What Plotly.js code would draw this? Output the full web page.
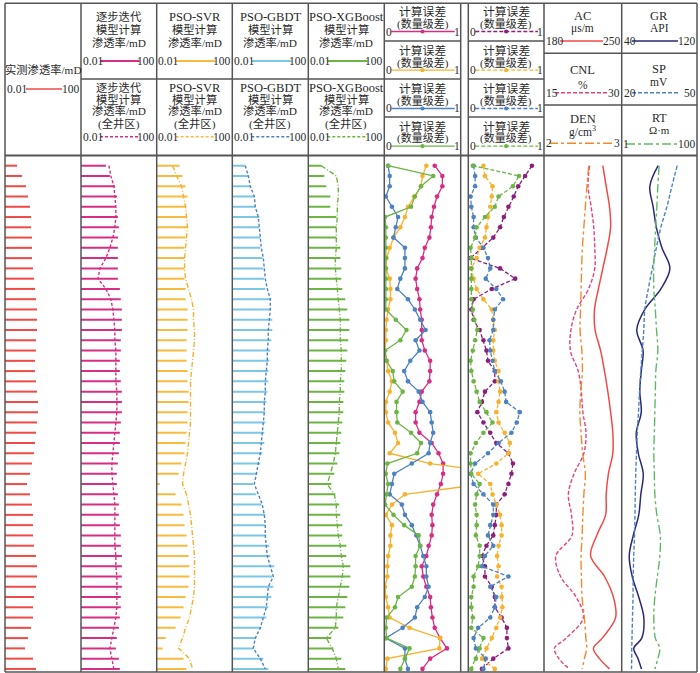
<!DOCTYPE html>
<html><head><meta charset="utf-8">
<script src="https://cdn.plot.ly/plotly-3.0.1.min.js"></script>
<style>html,body{margin:0;padding:0;background:#fff;}#chart{width:700px;height:673px;}</style>
</head><body><div id="chart"></div>
<script>
// ---------- DATA ----------
const depthIndex = [0,1,2,3,4,5,6,7,8,9,10,11,12,13,14,15,16,17,18,19,20,21,22,23,24,25,26,27,28,29,30,31,32,33,34,35,36,37,38,39,40,41,42,43,44,45,46,47,48,49];

const measured = [0.043,0.079,0.127,0.162,0.207,0.234,0.234,0.264,0.264,0.264,0.298,0.336,0.379,0.428,0.483,0.483,0.483,0.428,0.428,0.379,0.379,0.428,0.483,0.546,0.546,0.483,0.428,0.379,0.336,0.264,0.207,0.144,0.207,0.264,0.298,0.298,0.298,0.336,0.428,0.483,0.483,0.428,0.336,0.298,0.298,0.234,0.162,0.113,0.298,0.428];

const stepBar = [0.207,0.336,0.616,0.785,0.695,0.886,1.0,0.886,0.886,0.886,0.886,0.886,1.13,1.27,1.44,1.44,1.44,1.27,1.27,1.13,1.13,1.27,1.44,1.44,1.44,1.27,1.13,1.13,1.0,0.886,0.785,0.785,0.886,1.0,1.0,1.13,1.27,1.27,1.44,1.44,1.44,1.44,1.27,1.27,1.13,1.0,0.785,0.695,1.0,1.13];
const stepWell = [0.298,0.379,0.546,0.616,0.695,0.695,0.616,0.483,0.336,0.207,0.1,0.0785,0.207,0.379,0.483,0.546,0.616,0.616,0.695,0.695,0.695,0.695,0.785,0.785,0.785,0.695,0.616,0.546,0.483,0.428,0.428,0.483,0.546,0.616,0.616,0.616,0.616,0.616,0.695,0.695,0.785,0.785,0.785,0.785,0.695,0.546,0.428,0.336,0.428,0.546];

const svrBar = [0.162,0.234,0.336,0.428,0.336,0.379,0.428,0.336,0.298,0.298,0.298,0.298,0.336,0.336,0.428,0.428,0.428,0.379,0.379,0.379,0.428,0.428,0.483,0.483,0.428,0.428,0.379,0.336,0.298,0.207,0.144,0.0145,0.1,0.207,0.264,0.298,0.379,0.428,0.483,0.546,0.546,0.483,0.336,0.264,0.183,0.1,0.0298,0.0207,0.264,0.379];
const svrWell = [0.0695,0.113,0.207,0.264,0.336,0.379,0.428,0.379,0.336,0.298,0.298,0.336,0.483,0.695,0.886,0.886,1.0,1.0,0.886,0.785,0.695,0.616,0.616,0.616,0.616,0.616,0.546,0.483,0.428,0.336,0.264,0.234,0.379,0.483,0.616,0.695,0.785,0.886,1.0,1.0,1.0,1.0,0.886,0.695,0.546,0.336,0.234,0.144,0.546,0.785];

const gbdtBar = [0.0483,0.0695,0.0886,0.144,0.162,0.264,0.264,0.298,0.298,0.379,0.428,0.483,0.546,1.0,1.0,1.27,1.27,1.13,1.0,0.886,0.785,0.785,0.695,0.616,0.546,0.546,0.483,0.483,0.379,0.298,0.207,0.127,0.183,0.336,0.546,0.546,0.616,0.886,1.0,1.62,1.27,1.44,1.13,0.785,0.616,0.336,0.183,0.127,0.428,0.785];
const gbdtWell = [0.0483,0.0695,0.0886,0.144,0.162,0.234,0.264,0.298,0.336,0.428,0.483,0.546,0.695,1.0,1.0,0.886,0.785,0.785,0.695,0.695,0.616,0.546,0.546,0.483,0.483,0.428,0.379,0.336,0.298,0.234,0.183,0.144,0.234,0.379,0.483,0.546,0.546,0.616,0.695,1.0,1.44,0.785,0.695,0.616,0.428,0.298,0.162,0.127,0.298,0.546];

const xgbBar = [0.0483,0.0695,0.0886,0.144,0.144,0.298,0.298,0.298,0.483,0.483,0.546,0.546,0.616,0.886,1.13,1.44,1.44,1.27,1.13,1.0,0.886,0.785,0.785,0.695,0.695,0.616,0.546,0.483,0.428,0.336,0.234,0.162,0.264,0.428,0.483,0.616,0.616,1.0,1.0,1.62,1.62,1.44,1.13,0.886,0.695,0.379,0.162,0.207,0.546,0.886];
const xgbWell = [0.0483,0.298,0.379,0.379,0.336,0.336,0.298,0.298,0.298,0.264,0.264,0.298,0.336,0.379,0.428,0.483,0.483,0.483,0.546,0.546,0.546,0.483,0.483,0.428,0.428,0.379,0.336,0.298,0.264,0.207,0.144,0.1,0.234,0.298,0.298,0.336,0.379,0.483,0.546,0.695,0.616,0.483,0.379,0.298,0.298,0.264,0.0886,0.183,0.298,0.379];

// calculation error (order-of-magnitude difference), study interval
const errStep = [0.66,0.76,0.76,0.69,0.65,0.62,0.61,0.59,0.53,0.50,0.43,0.41,0.43,0.46,0.47,0.49,0.49,0.49,0.53,0.60,0.60,0.59,0.49,0.46,0.41,0.41,0.46,0.62,0.71,0.77,0.77,0.74,0.69,0.64,0.62,0.63,0.62,0.58,0.55,0.49,0.51,0.55,0.60,0.61,0.63,0.66,0.73,0.82,0.60,0.50];
const errSvr = [0.55,0.50,0.48,0.39,0.31,0.27,0.21,0.12,0.07,0.03,0.02,0.07,0.08,0.08,0.05,0.03,0.02,0.02,0.01,0.03,0.05,0.10,0.07,0.02,0.02,0.05,0.14,0.18,0.07,0.60,1.6,1.3,0.27,0.10,0.02,0.10,0.08,0.08,0.05,0.04,0.04,0.01,0.02,0.05,0.07,0.33,0.73,0.72,0.04,0.02];
const errGbdt = [0.05,0.07,0.07,0.02,0.10,0.18,0.15,0.12,0.27,0.27,0.27,0.21,0.17,0.31,0.40,0.47,0.54,0.41,0.46,0.34,0.26,0.31,0.45,0.50,0.60,0.62,0.64,0.60,0.58,0.36,0.13,0.10,0.07,0.23,0.27,0.36,0.42,0.47,0.51,0.55,0.55,0.58,0.53,0.43,0.40,0.24,0.02,0.27,0.27,0.31];
const errXgb = [0.05,0.64,0.48,0.40,0.35,0.01,0.02,0.02,0.02,0.02,0.02,0.02,0.02,0.02,0.02,0.15,0.29,0.21,0.01,0.03,0.11,0.13,0.24,0.16,0.16,0.17,0.35,0.48,0.43,0.04,0.02,0.05,0.03,0.01,0.12,0.26,0.45,0.47,0.41,0.41,0.40,0.36,0.18,0.14,0.03,0.02,0.03,0.33,0.27,0.21];
// calculation error, whole-well models
const errStepW = [0.84,0.75,0.66,0.60,0.53,0.47,0.42,0.33,0.18,0.03,0.42,0.62,0.31,0.07,0.04,0.07,0.15,0.20,0.24,0.26,0.35,0.35,0.22,0.18,0.12,0.20,0.29,0.37,0.53,0.59,0.57,0.53,0.48,0.37,0.37,0.35,0.33,0.24,0.18,0.22,0.22,0.31,0.35,0.35,0.44,0.51,0.51,0.53,0.33,0.18];
const errSvrW = [0.20,0.22,0.32,0.31,0.29,0.26,0.24,0.22,0.15,0.11,0.04,0.07,0.11,0.20,0.31,0.33,0.35,0.33,0.33,0.35,0.40,0.40,0.42,0.40,0.37,0.40,0.48,0.55,0.53,0.37,0.13,0.29,0.32,0.37,0.42,0.44,0.44,0.40,0.38,0.40,0.38,0.44,0.44,0.45,0.42,0.37,0.31,0.24,0.18,0.35];
const errGbdtW = [0.07,0.09,0.09,0.03,0.04,0.07,0.07,0.10,0.20,0.26,0.29,0.23,0.37,0.46,0.35,0.33,0.33,0.28,0.29,0.32,0.35,0.43,0.48,0.50,0.68,0.64,0.57,0.40,0.26,0.09,0.03,0.07,0.20,0.33,0.33,0.29,0.26,0.33,0.22,0.18,0.53,0.29,0.37,0.35,0.29,0.13,0.07,0.10,0.23,0.20];
const errXgbW = [0.06,0.67,0.59,0.40,0.35,0.22,0.11,0.09,0.03,0.04,0.04,0.04,0.04,0.04,0.06,0.08,0.12,0.09,0.06,0.03,0.04,0.07,0.11,0.15,0.24,0.32,0.20,0.10,0.03,0.03,0.04,0.15,0.11,0.09,0.11,0.11,0.10,0.15,0.15,0.13,0.07,0.07,0.04,0.04,0.06,0.04,0.20,0.15,0.10,0.04];

// well-log curves
const curveDepth = [0,2,4,6,8,10,12,14,16,18,20,22,24,26,28,30,32,34,36,38,40,42,44,46,47,48,49];
const AC  = [233,236,239,240,237,233,229,225.5,226,231,234.5,237.5,240,242,242,238,236,235.5,227.5,222,234.5,242.5,244.5,232.5,224.5,230,239];
const CNL = [23.8,23.5,24.1,24.6,24.8,24.8,23.6,21.3,20.2,20.1,21.6,22.2,22.5,23.1,22.7,20.8,19.7,20.3,20.4,17.3,18.2,21.2,22.6,19.3,17.0,17.9,19.9];
const DEN = [2.575,2.552,2.532,2.513,2.494,2.484,2.478,2.471,2.464,2.487,2.494,2.474,2.461,2.477,2.497,2.532,2.513,2.50,2.491,2.477,2.481,2.49,2.519,2.539,2.549,2.519,2.49];
const GR  = [78.7,69.9,73.4,76.8,82.7,91.2,81.6,64.5,56,62.7,60.8,59.2,60.8,55.5,57.6,62.9,60.3,58.1,52.3,48,51.2,58.1,63.5,61.3,52.8,57.4,61];
const SP  = [42.1,40.0,38.0,35.6,33.8,32.2,30.6,29.2,28.8,28.2,27.6,27.1,26.7,26.2,25.9,25.6,25.4,25.3,25.1,24.8,24.6,24.5,24.3,24.1,24.0,24.0,23.9];
const RT  = [9.88,9.12,8.58,7.97,7.50,7.05,7.13,7.82,8.42,9.12,8.07,7.82,7.59,7.36,7.13,7.36,7.59,8.58,10.6,10.3,8.85,7.59,7.13,7.82,10.3,9.12,7.59];

// header texts
const modelNames = ['逐步迭代','PSO-SVR','PSO-GBDT','PSO-XGBoost'];
const permScaleLabels = ['0.01','100'];
const errTitle = ['计算误差','(数量级差)'];

// ---------- LAYOUT HELPERS ----------
const W=700,H=673;
const PX=x=>x/W, PY=y=>1-y/H;
const cols=[[5,81],[81,156.7],[156.7,232.3],[232.3,308.3],[308.3,384.3],[384.3,460.7],[468.3,544],[544,621.7],[621.7,697]];
const FONT="'Liberation Serif','Noto Sans CJK SC',serif";
const TXT='#2a2a2a';

const C = {red:'#ef4a45', mag:'#d62e83', yel:'#f9bb3f', lblue:'#7cc6e6', grn:'#6db445',
  dblue:'#4c82c0', purp:'#8c1f7c', orng:'#f08a2e', pink:'#e8407e', navy:'#2b2877', sgreen:'#5fba63'};

function segs(vals, depth){const x=[],y=[];vals.forEach((v,i)=>{x.push(0.01,v,null);y.push(depth[i],depth[i],null);});return {x,y};}

const traces=[];
function barTrace(vals, ax, color){const s=segs(vals, depthIndex);
  traces.push({type:'scatter',mode:'lines',x:s.x,y:s.y,xaxis:ax,yaxis:'y',line:{color:color,width:2},hoverinfo:'skip',showlegend:false});}
function lineTrace(vals, depth, ax, color, dash, width, markers, shape){
  traces.push({type:'scatter',mode:markers?'lines+markers':'lines',x:vals,y:depth,xaxis:ax,yaxis:'y',
    line:{color:color,width:width||1.4,dash:dash||'solid',shape:shape||'linear'},
    marker:{color:color,size:4.6},hoverinfo:'skip',showlegend:false});}

barTrace(measured,'x',C.red);
barTrace(stepBar,'x2',C.mag);  lineTrace(stepWell,depthIndex,'x2',C.mag,'3px,2px',1.4);
barTrace(svrBar,'x3',C.yel);   lineTrace(svrWell,depthIndex,'x3','#f5b030','5px,2px,1px,2px',1.4);
barTrace(gbdtBar,'x4',C.lblue);lineTrace(gbdtWell,depthIndex,'x4',C.dblue,'3px,2px',1.4);
barTrace(xgbBar,'x5',C.grn);   lineTrace(xgbWell,depthIndex,'x5',C.grn,'5px,2px,1px,2px',1.4);

lineTrace(errStep,depthIndex,'x6',C.mag,'solid',1.3,true);
lineTrace(errSvr,depthIndex,'x6','#f6b22e','solid',1.3,true);
lineTrace(errGbdt,depthIndex,'x6',C.dblue,'solid',1.3,true);
lineTrace(errXgb,depthIndex,'x6',C.grn,'solid',1.3,true);

lineTrace(errStepW,depthIndex,'x7',C.purp,'4px,2px',1.3,true);
lineTrace(errSvrW,depthIndex,'x7','#f6b22e','4px,2px',1.3,true);
lineTrace(errGbdtW,depthIndex,'x7',C.dblue,'4px,2px',1.3,true);
lineTrace(errXgbW,depthIndex,'x7',C.grn,'4px,2px',1.3,true);

lineTrace(AC,curveDepth,'x8',C.red,'solid',1.5,false,'spline');
lineTrace(CNL,curveDepth,'x10',C.pink,'4px,2px',1.4,false,'spline');
lineTrace(DEN,curveDepth,'x11',C.orng,'dashdot',1.4,false,'spline');
lineTrace(GR,curveDepth,'x9',C.navy,'solid',1.5,false,'spline');
lineTrace(SP,curveDepth,'x12',C.dblue,'4px,2px',1.4,false,'spline');
lineTrace(RT,curveDepth,'x13',C.sgreen,'dashdot',1.4,false,'spline');

// axes
const hidden={visible:false,showgrid:false,zeroline:false,fixedrange:true};
const layout={width:W,height:H,margin:{l:0,r:0,t:0,b:0},paper_bgcolor:'#fff',plot_bgcolor:'rgba(0,0,0,0)',showlegend:false,
  font:{family:FONT,size:12,color:TXT},
  yaxis:Object.assign({domain:[PY(672),PY(156)],range:[49.30,-0.944]},hidden),
  shapes:[],annotations:[]};
const axNames=['xaxis','xaxis2','xaxis3','xaxis4','xaxis5','xaxis6','xaxis7','xaxis8','xaxis9'];
for(let i=0;i<9;i++){
  const a=Object.assign({anchor:'y',domain:[PX(cols[i][0]),PX(cols[i][1])]},hidden);
  if(i<5){a.type='log';a.range=[-2,2];}
  else if(i<7){a.range=[0,1];}
  else if(i===7){a.range=[180,250];}
  else {a.range=[40,120];}
  layout[axNames[i]]=a;
}
layout.xaxis10=Object.assign({anchor:'y',overlaying:'x8',range:[15,30]},hidden);
layout.xaxis11=Object.assign({anchor:'y',overlaying:'x8',range:[2,3]},hidden);
layout.xaxis12=Object.assign({anchor:'y',overlaying:'x9',range:[20,50]},hidden);
layout.xaxis13=Object.assign({anchor:'y',overlaying:'x9',type:'log',range:[0,2]},hidden);

// shapes helpers (paper px)
const S=layout.shapes, A=layout.annotations;
function line(x0,y0,x1,y1,color,width,dash){S.push({type:'line',xref:'paper',yref:'paper',x0:PX(x0),y0:PY(y0),x1:PX(x1),y1:PY(y1),line:{color:color,width:width,dash:dash||'solid'}});}
function dot(x,y,r,color){S.push({type:'circle',xref:'paper',yref:'paper',x0:PX(x-r),x1:PX(x+r),y0:PY(y+r),y1:PY(y-r),fillcolor:color,line:{width:0}});}
function txt(t,x,y,xa,size){A.push({text:t,xref:'paper',yref:'paper',x:PX(x),y:PY(y),xanchor:xa||'center',yanchor:'middle',showarrow:false,borderpad:0,font:{family:FONT,size:size||11.3,color:TXT}});}

// grid lines
const G='#555';
line(5,3.3,697,3.3,G,1.5); line(5,672,697,672,G,1.5); line(5,155.5,697,155.5,G,2);
[5,81,156.7,232.3,308.3,384.3,460.7,468.3,544,621.7,697].forEach(x=>line(x,3.3,x,672,G,1.5));
line(81,79,384.3,79,G,1.5);
[41,79,117].forEach(y=>{line(384.3,y,460.7,y,G,1.5);line(468.3,y,544,y,G,1.5);});
[53.3,105].forEach(y=>line(544,y,697,y,G,1.5));

// column 1 header
txt('实测渗透率/mD',43,70,'center',11.3);
txt(permScaleLabels[0],5.5,89,'left',11.5); txt(permScaleLabels[1],80.5,89,'right',11.5);
line(26,89,62,89,C.red,1.6);

// model headers
const solidCols=[C.mag,C.yel,C.lblue,C.grn];
const dashCols=[C.mag,C.yel,C.dblue,C.grn];
for(let i=0;i<4;i++){
  const L=cols[i+1][0],R=cols[i+1][1],M=(L+R)/2;
  const ns=i===0?11.3:12.5;
  txt(modelNames[i],M,17,'center',ns); txt('模型计算',M,29.5); txt('渗透率/mD',M,42.5);
  txt(permScaleLabels[0],L+0.5,61,'left',11.5); txt(permScaleLabels[1],R-0.5,61,'right',11.5);
  line(L+19,61,R-17,61,solidCols[i],1.8);
  txt(modelNames[i],M,87.7,'center',ns); txt('模型计算',M,99); txt('渗透率/mD',M,110.5); txt('(全井区)',M,123.5);
  txt(permScaleLabels[0],L+0.5,136.7,'left',11.5); txt(permScaleLabels[1],R-0.5,136.7,'right',11.5);
  line(L+19,136.7,R-17,136.7,dashCols[i],1.4,'3px,2px');
}

// error headers
const errRowsT=[12.3,51,89.3,126.7], errRowsS=[24.3,62.7,100.7,138.3], errRowsL=[31.5,70.2,108.5,146.2];
const errColsA=[C.mag,'#f6b22e',C.dblue,C.grn], errColsB=[C.purp,'#f6b22e',C.dblue,C.grn];
[5,6].forEach((ci,j)=>{
  const L=cols[ci][0],R=cols[ci][1],M=(L+R)/2;
  for(let r=0;r<4;r++){
    txt(errTitle[0],M,errRowsT[r],'center',11.8); txt(errTitle[1],M,errRowsS[r],'center',11);
    txt('0',L+1,errRowsL[r],'left',11.5); txt('1',R,errRowsL[r],'right',11.5);
    line(L+7,errRowsL[r],R-6,errRowsL[r],j===0?errColsA[r]:errColsB[r],1.3,j===0?'solid':'4px,2px');
    dot(M,errRowsL[r],2.1,j===0?errColsA[r]:errColsB[r]);
  }
});

// log headers
const M8=582.8,M9=659.3;
txt('AC',M8,15.5,'center',12.5); txt('μs/m',M8,28.5,'center',11.5);
txt('180',545,41,'left',11.5); txt('250',621.5,41,'right',11.5); line(560,41,603,41,C.red,1.6);
txt('GR',M9,15.5,'center',12.5); txt('API',M9,28.5,'center',11.5);
txt('40',622.5,41,'left',11.5); txt('120',697,41,'right',11.5); line(632,41,678,41,C.navy,1.6);
txt('CNL',M8,70,'center',12.5); txt('%',M8,84.5,'center',11.5);
txt('15',545,92.7,'left',11.5); txt('30',621,92.7,'right',11.5); line(555,92.7,608,92.7,C.pink,1.4,'4px,2px');
txt('SP',M9,69.5,'center',12.5); txt('mV',M9,82,'center',11.5);
txt('20',622.5,92.7,'left',11.5); txt('50',697,92.7,'right',11.5); line(632,92.7,678,92.7,C.dblue,1.4,'4px,2px');
txt('DEN',M8,118.5,'center',12.5); txt('g/cm<sup>3</sup>',M8,132,'center',11.5);
txt('2',545,143.3,'left',11.5); txt('3',620.5,143.3,'right',11.5); line(549,143.3,613,143.3,C.orng,1.4,'dashdot');
txt('RT',M9,117.5,'center',12); txt('Ω·m',M9,129.5,'center',11);
txt('1',621.5,144,'left',11.5); txt('100',697,144,'right',11.5); line(626,144,678,144,C.sgreen,1.4,'dashdot');

Plotly.newPlot('chart',traces,layout,{staticPlot:true,displayModeBar:false});
</script></body></html>
